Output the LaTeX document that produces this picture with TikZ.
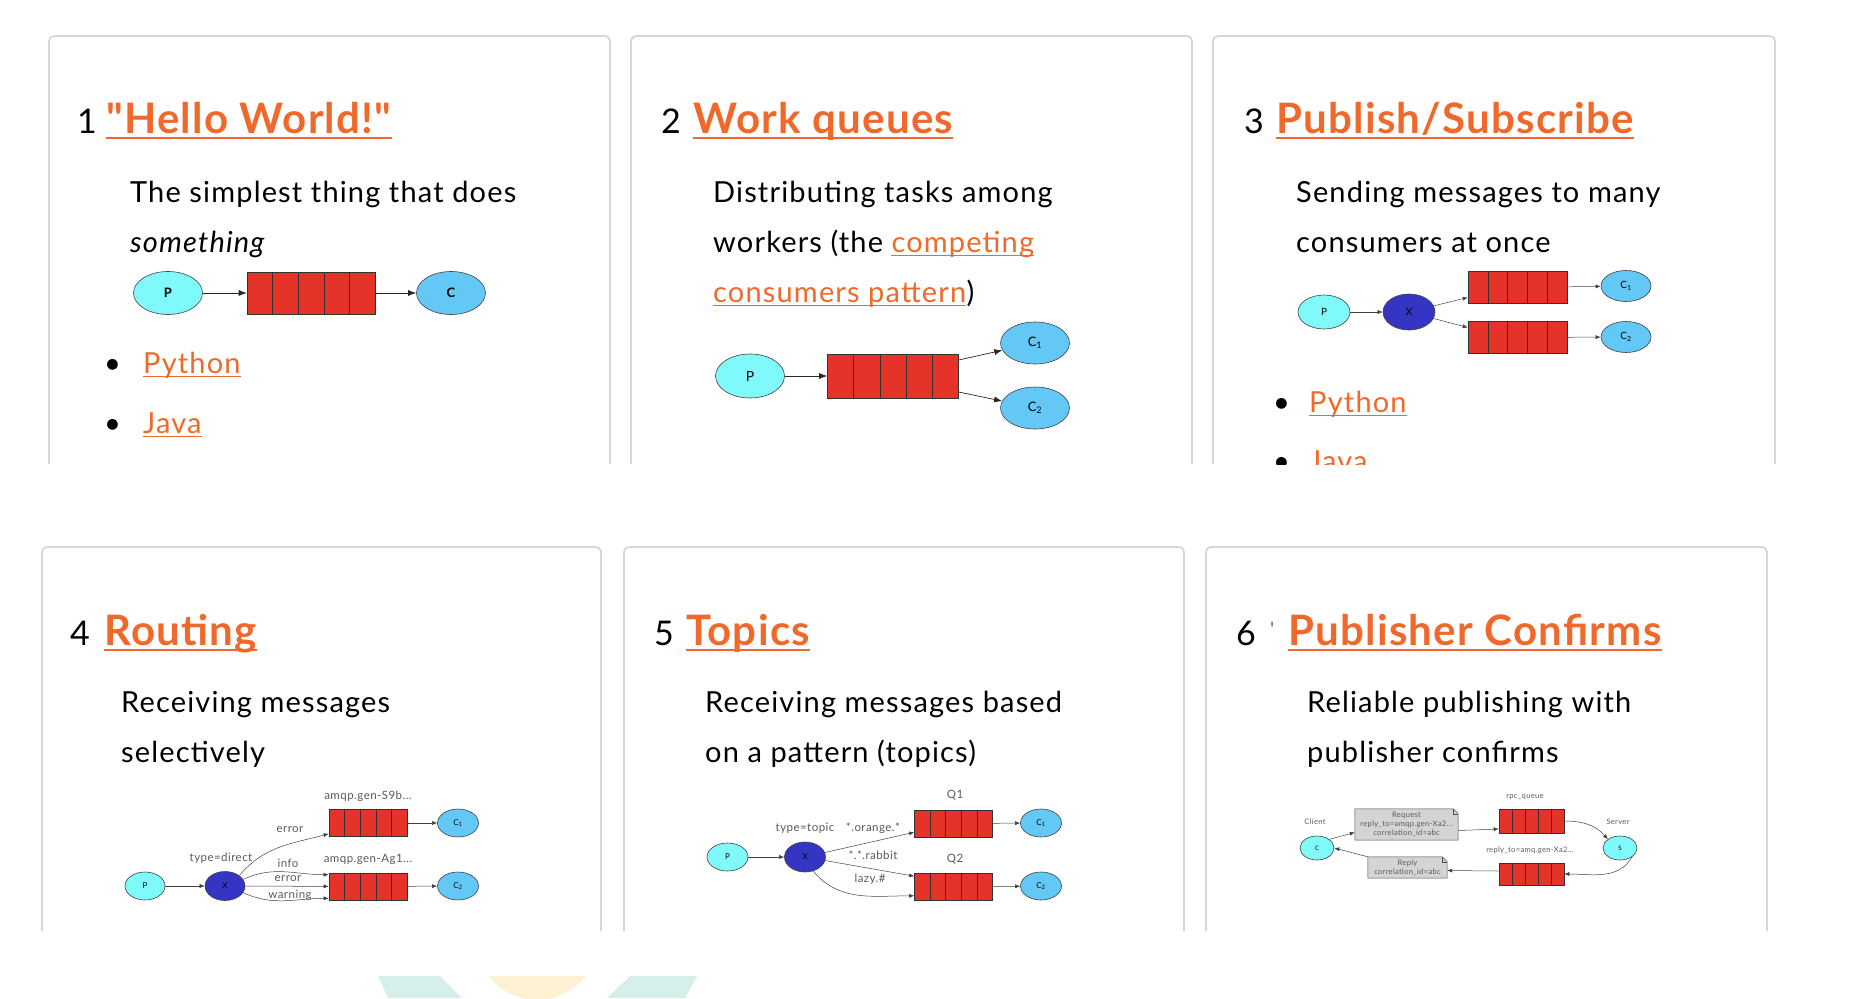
\documentclass[tikz,border=0pt]{standalone}
\usepackage{fontspec}
\setmainfont{Lato}[LetterSpace=4]
\newfontfamily\fuentetitulo{Lato}[Ligatures=TeXOff, LetterSpace=3]
\usetikzlibrary{shapes.geometric,arrows.meta,calc,backgrounds}

\definecolor{naranja}{HTML}{F0692A}
\definecolor{borde}{HTML}{D6D6D6}
\definecolor{cian}{HTML}{7FF9F9}
\definecolor{celeste}{HTML}{63C8F6}
\definecolor{azulx}{HTML}{3535C4}
\definecolor{rojo}{HTML}{E5332A}
\definecolor{grisnota}{HTML}{D4D4D4}
\definecolor{verdeagua}{HTML}{D6EFEA}
\definecolor{crema}{HTML}{FEF0D2}

% subrayado de un enlace
\newcommand\subraya[3][1.6pt]{\draw[naranja, line width=#1] ([yshift=-#2]#3.base west) -- ([yshift=-#2]#3.base east);}

% nota con esquina doblada
\newcommand\doblez[1]{%
  \begin{scope}[on background layer]
    \filldraw[fill=grisnota, draw=black!70, line width=0.5pt] (#1.south west) -- (#1.north west)
      -- ([xshift=-5pt]#1.north east) -- ([yshift=-5pt]#1.north east) -- (#1.south east) -- cycle;
    \draw[black!70, line width=0.4pt] ([xshift=-5pt]#1.north east) -- ([xshift=-5pt,yshift=-5pt]#1.north east)
      -- ([yshift=-5pt]#1.north east);
  \end{scope}}

\tikzset{
  panel/.style={draw=borde, line width=1.8pt, rounded corners=5pt},
  numero/.style={anchor=base west, inner sep=0pt, font=\fontsize{34}{40}\selectfont},
  titulo/.style={anchor=base west, inner sep=0pt, text=naranja, font=\fuentetitulo\fontsize{42}{44}\selectfont\bfseries},
  cuerpo/.style={anchor=base west, inner sep=0pt, font=\fontsize{29}{32}\selectfont},
  enlace/.style={cuerpo, text=naranja},
  prod/.style={ellipse, draw=black!75, line width=0.6pt, fill=cian, inner sep=0pt},
  cons/.style={ellipse, draw=black!75, line width=0.6pt, fill=celeste, inner sep=0pt},
  inter/.style={ellipse, draw=black!75, line width=0.6pt, fill=azulx, inner sep=0pt},
  cola/.style={draw=black!80, line width=0.6pt, fill=rojo, inner sep=0pt,
    path picture={\foreach \f in {0.2,0.4,0.6,0.8}
      \draw[black!80, line width=0.6pt] ($(path picture bounding box.north west)!\f!(path picture bounding box.north east)$)
        -- ($(path picture bounding box.south west)!\f!(path picture bounding box.south east)$);}},
  flecha/.style={-{Latex[length=8pt,width=6pt]}, line width=0.7pt, black!85},
  flechita/.style={-{Latex[length=5pt,width=4pt]}, line width=0.5pt, black!75},
  etiq/.style={inner sep=0pt, text=black!65, font=\fontsize{11.5}{12}\selectfont},
  diminuta/.style={inner sep=0pt, text=black!65, align=center, font=\fontsize{7.6}{9}\selectfont},
}

\begin{document}
\begin{tikzpicture}[x=1pt,y=1pt]
\useasboundingbox (0,0) rectangle (1867,-998);

% Paneles
\foreach \l/\r in {49/610, 631/1192, 1213/1775}
  \draw[panel] (\l,-464) -- (\l,-36) -- (\r,-36) -- (\r,-464);
\foreach \l/\r in {42/601, 624/1184, 1206/1767}
  \draw[panel] (\l,-931) -- (\l,-547) -- (\r,-547) -- (\r,-931);

% Titulos
\node[numero] (n1) at (77,-133) {1};
\node[titulo] (t1) at (106,-133) {"Hello World!"};
\node[numero] (n2) at (661,-133) {2};
\node[titulo] (t2) at (693,-133) {Work queues};
\node[numero] (n3) at (1244,-133) {3};
\node[titulo] (t3) at (1276,-133) {Publish/Subscribe};
\node[numero] (n4) at (70,-645) {4};
\node[titulo] (t4) at (104,-645) {Routing};
\node[numero] (n5) at (654,-645) {5};
\node[titulo] (t5) at (686,-645) {Topics};
\node[numero] (n6) at (1236,-645) {6};
\node[anchor=base west, inner sep=0pt, text=black!60, font=\fuentetitulo\fontsize{20}{20}\selectfont] (m6) at (1270,-636) {'};
\node[titulo] (t6) at (1288,-645) {Publisher Confirms};
\foreach \t in {t1,t2,t3,t4,t5,t6}
  {\subraya[2.8pt]{5pt}{\t}}

% Textos
\node[cuerpo] (d11) at (130,-202) {The simplest thing that does};
\node[cuerpo] (d12) at (130,-252) {\textit{something}};
\node[cuerpo] (d21) at (713,-202) {Distributing tasks among};
\node[cuerpo] (d22) at (713,-252) {workers (the};
\node[enlace] (k22) at ([xshift=8pt]d22.base east) {competing};
\node[enlace] (k23) at (713,-302) {consumers pattern};
\node[cuerpo] (d23) at (k23.base east) {)};
\node[cuerpo] (d31) at (1296,-202) {Sending messages to many};
\node[cuerpo] (d32) at (1296,-252) {consumers at once};
\node[cuerpo] (d41) at (121,-712) {Receiving messages};
\node[cuerpo] (d42) at (121,-762) {selectively};
\node[cuerpo] (d51) at (705,-712) {Receiving messages based};
\node[cuerpo] (d52) at (705,-762) {on a pattern (topics)};
\node[cuerpo] (d61) at (1307,-712) {Reliable publishing with};
\node[cuerpo] (d62) at (1307,-762) {publisher confirms};

% Listas
\node[cuerpo] (b11) at (104,-373) {•};
\node[enlace] (l11) at (143,-373) {Python};
\node[cuerpo] (b12) at (104,-433) {•};
\node[enlace] (l12) at (143,-433) {Java};
\begin{scope}
  \clip (1213,-380) rectangle (1775,-464);
  \node[cuerpo] (b31) at (1273,-412) {•};
  \node[enlace] (l31) at (1309,-412) {Python};
  \node[cuerpo] (b32) at (1273,-471) {•};
  \node[enlace] (l32) at (1309,-471) {Java};
  \subraya{3.5pt}{l32}
\end{scope}
\foreach \k in {k22,k23,l11,l12,l31}
  {\subraya{3.5pt}{\k}}

% 1 Hello World
\node[prod, minimum width=69pt, minimum height=43pt, font=\bfseries\fontsize{13}{13}\selectfont] (p1) at (168,-293) {P};
\node[cola, minimum width=128pt, minimum height=42pt] (q1) at (311,-293) {};
\node[cons, minimum width=69pt, minimum height=43pt, font=\bfseries\fontsize{13}{13}\selectfont] (c1) at (451,-293) {C};
\draw[flecha] (p1) -- (q1);
\draw[flecha] (q1) -- (c1);

% 2 Work queues
\node[prod, minimum width=69pt, minimum height=44pt, font=\fontsize{14}{14}\selectfont] (p2) at (750,-376) {P};
\node[cola, minimum width=131pt, minimum height=44pt] (q2) at (893,-376) {};
\node[cons, minimum width=69pt, minimum height=42pt, font=\fontsize{13}{13}\selectfont] (c21) at (1035,-343) {C\textsubscript{1}};
\node[cons, minimum width=69pt, minimum height=42pt, font=\fontsize{13}{13}\selectfont] (c22) at (1035,-408) {C\textsubscript{2}};
\draw[flecha] (p2) -- (q2);
\draw[flecha] ([yshift=16pt]q2.east) -- (c21);
\draw[flecha] ([yshift=-16pt]q2.east) -- (c22);

% 3 Publish/Subscribe
\node[prod, minimum width=52pt, minimum height=34pt, font=\fontsize{10}{10}\selectfont] (p3) at (1324,-312) {P};
\node[inter, minimum width=52pt, minimum height=36pt, font=\fontsize{10}{10}\selectfont] (x3) at (1409,-312) {X};
\node[cola, minimum width=99pt, minimum height=32pt] (q31) at (1517.5,-287.5) {};
\node[cola, minimum width=99pt, minimum height=32pt] (q32) at (1517.5,-337.5) {};
\node[cons, minimum width=50pt, minimum height=31pt, font=\fontsize{10}{10}\selectfont] (c31) at (1626,-286) {C\textsubscript{1}};
\node[cons, minimum width=50pt, minimum height=31pt, font=\fontsize{10}{10}\selectfont] (c32) at (1626,-337) {C\textsubscript{2}};
\draw[flechita] (p3) -- (x3);
\draw[flechita] (x3) -- ([yshift=-10pt]q31.west);
\draw[flechita] (x3) -- ([yshift=10pt]q32.west);
\draw[flechita] (q31) -- (c31);
\draw[flechita] (q32) -- (c32);

% 4 Routing
\node[prod, minimum width=40pt, minimum height=28pt, font=\fontsize{8}{8}\selectfont] (p4) at (145,-886) {P};
\node[inter, minimum width=40pt, minimum height=29pt, font=\fontsize{8}{8}\selectfont] (x4) at (225,-886) {X};
\node[cola, minimum width=78pt, minimum height=27pt] (q41) at (368,-823) {};
\node[cola, minimum width=78pt, minimum height=27pt] (q42) at (368,-886.5) {};
\node[cons, minimum width=41pt, minimum height=28pt, font=\fontsize{8}{8}\selectfont] (c41) at (458,-823) {C\textsubscript{1}};
\node[cons, minimum width=41pt, minimum height=28pt, font=\fontsize{8}{8}\selectfont] (c42) at (458,-886) {C\textsubscript{2}};
\draw[flechita] (p4) -- (x4);
\draw[flechita] (x4.north east) to[out=50, in=195] ([yshift=3pt]q41.south west);
\draw[flechita] (x4.20) to[out=25, in=180] ([yshift=-2pt]q42.north west);
\draw[flechita] (x4) -- (q42);
\draw[flechita] (x4.-20) to[out=-25, in=180] ([yshift=2pt]q42.south west);
\draw[flechita] (q41) -- (c41);
\draw[flechita] (q42) -- (c42);
\node[etiq] (e41) at (368,-796) {amqp.gen-S9b...};
\node[etiq] (e42) at (368,-859) {amqp.gen-Ag1...};
\node[etiq] (e43) at (221,-858) {type=direct};
\node[etiq] (e44) at (290,-830) {error};
\node[etiq] (e45) at (288,-863) {info};
\node[etiq] (e46) at (288,-879) {error};
\node[etiq] (e47) at (290,-895) {warning};

% 5 Topics
\node[prod, minimum width=41pt, minimum height=28pt, font=\fontsize{8}{8}\selectfont] (p5) at (727.5,-857) {P};
\node[inter, minimum width=41pt, minimum height=30pt, font=\fontsize{8}{8}\selectfont] (x5) at (805,-857) {X};
\node[cola, minimum width=78pt, minimum height=27pt] (q51) at (953.5,-823.5) {};
\node[cola, minimum width=78pt, minimum height=27pt] (q52) at (953.5,-887) {};
\node[cons, minimum width=41pt, minimum height=28pt, font=\fontsize{8}{8}\selectfont] (c51) at (1041,-823) {C\textsubscript{1}};
\node[cons, minimum width=41pt, minimum height=28pt, font=\fontsize{8}{8}\selectfont] (c52) at (1041,-886) {C\textsubscript{2}};
\draw[flechita] (p5) -- (x5);
\draw[flechita] (x5) -- ([yshift=5pt]q51.south west);
\draw[flechita] (x5) -- ([yshift=-3pt]q52.north west);
\draw[flechita] (x5.-60) to[out=-50, in=180] ([yshift=5pt]q52.south west);
\draw[flechita] (q51) -- (c51);
\draw[flechita] (q52) -- (c52);
\node[etiq] (e51) at (955,-795) {Q1};
\node[etiq] (e52) at (955,-859) {Q2};
\node[etiq] (e53) at (805,-828) {type=topic};
\node[etiq] (e54) at (873,-828) {*.orange.*};
\node[etiq] (e55) at (873,-855) {*.*.rabbit};
\node[etiq] (e56) at (870,-879) {lazy.\#};

% 6 Publisher Confirms
\node[prod, minimum width=34pt, minimum height=24pt, font=\fontsize{6}{6}\selectfont] (c6) at (1317,-848) {C};
\node[prod, minimum width=34pt, minimum height=24pt, font=\fontsize{6}{6}\selectfont] (s6) at (1620,-848) {S};
\node[diminuta, minimum width=103pt, minimum height=31pt] (req) at (1406.5,-824.5) {Request\\reply\_to=amqp.gen-Xa2...\\correlation\_id=abc};
\node[diminuta, minimum width=79pt, minimum height=21pt] (rep) at (1407.5,-867.5) {Reply\\correlation\_id=abc};
\doblez{req}
\doblez{rep}
\node[cola, minimum width=65pt, minimum height=24pt] (qrpc) at (1531.5,-821) {};
\node[cola, minimum width=65pt, minimum height=22pt] (qrep) at (1531.5,-874) {};
\draw[flechita] (c6.north east) -- ([yshift=-8pt]req.west);
\draw[flechita] ([yshift=-6pt]req.east) -- ([yshift=-8pt]qrpc.west);
\draw[flechita] (qrpc.east) to[out=0, in=130] (s6.north west);
\draw[flechita] (s6.south east) to[out=-120, in=0] (qrep.east);
\draw[flechita] ([yshift=3pt]qrep.west) -- ([yshift=-3pt]rep.east);
\draw[flechita] (rep.north west) -- (c6.east);
\node[diminuta] (e61) at (1525,-797) {rpc\_queue};
\node[diminuta] (e62) at (1315,-822) {Client};
\node[diminuta] (e63) at (1618,-822) {Server};
\node[diminuta] (e64) at (1530,-850) {reply\_to=amq.gen-Xa2...};

% Adorno inferior
\begin{scope}
  \clip (0,-976) rectangle (1867,-998);
  \fill[verdeagua] (378,-976) -- (440,-976) -- (462,-998) -- (388,-998) -- cycle;
  \fill[crema] (537,-939) circle (61);
  \fill[verdeagua] (630,-976) -- (697,-976) -- (685,-998) -- (607,-998) -- cycle;
\end{scope}
\end{tikzpicture}
\end{document}
